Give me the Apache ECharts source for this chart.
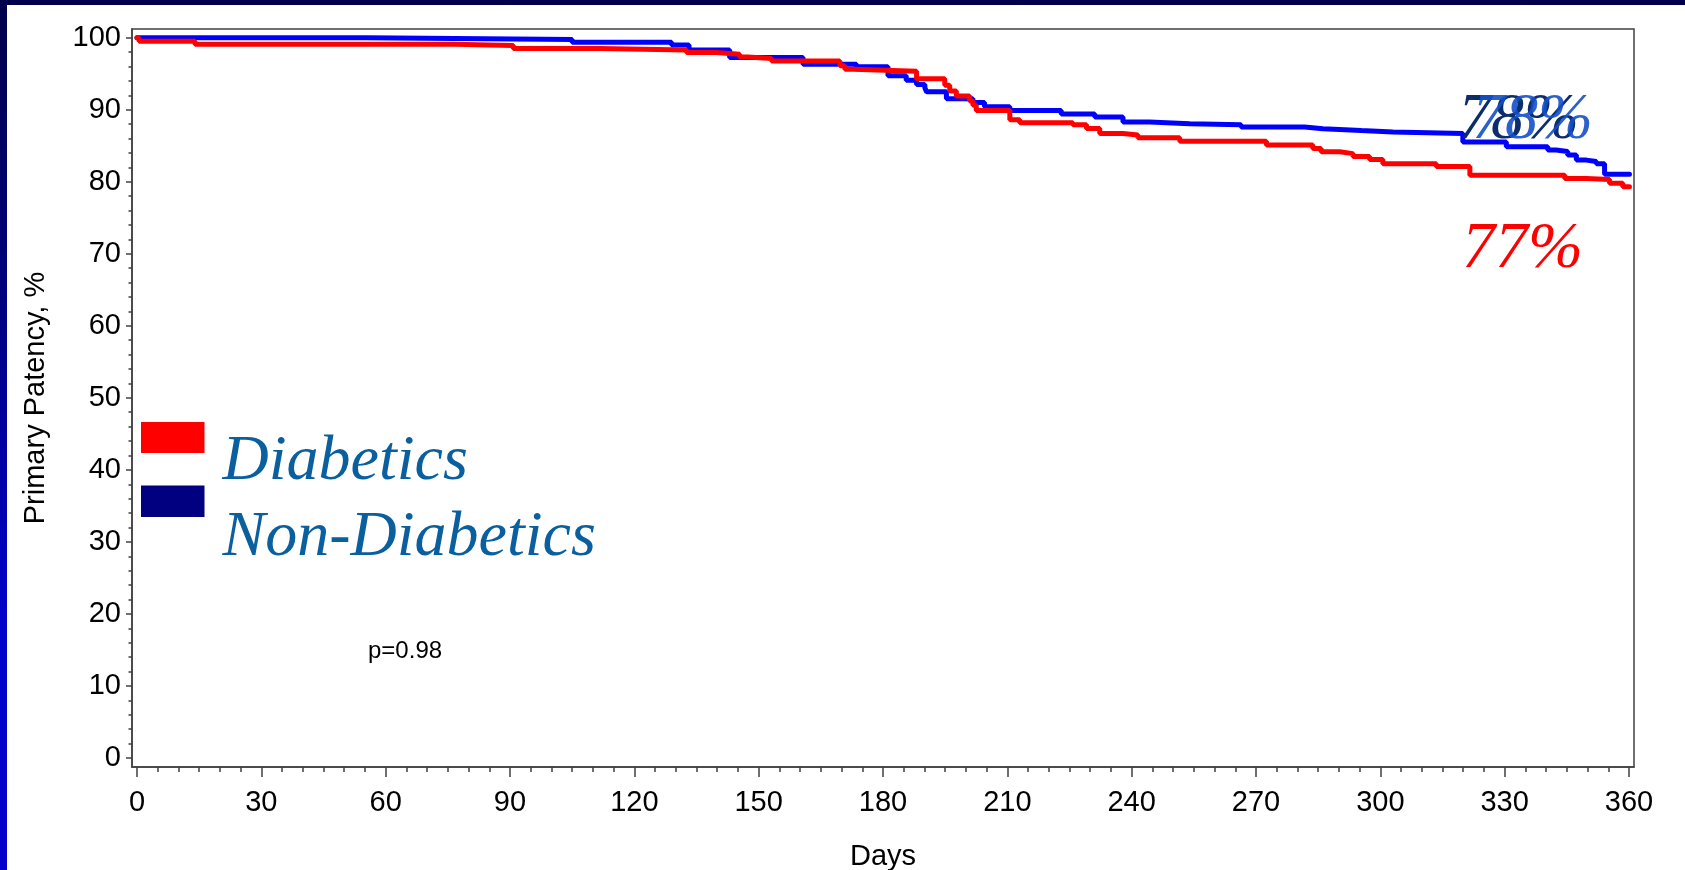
<!DOCTYPE html>
<html>
<head>
<meta charset="utf-8">
<script src="https://cdn.jsdelivr.net/npm/echarts@6/dist/echarts.min.js"></script>
<style>
  html, body { margin: 0; padding: 0; width: 1685px; height: 870px; overflow: hidden; }
  body { background: linear-gradient(to bottom, #00004a 0%, #000080 35%, #0000c8 70%, #0000cc 100%); position: relative; }
  #chart { position: absolute; left: 7px; top: 5px; width: 1678px; height: 865px; background: #ffffff; }
</style>
</head>
<body>
<div id="chart"></div>
<script>
// ---- Data ----
const seriesNames = ['Diabetics', 'Non-Diabetics'];

const diabeticsDays = [0, 0.5, 14.0, 76.7, 90.8, 111.7, 132.6, 139.8, 145.4, 147.4, 153.1, 169.6, 170.8, 172.8,
  188.1, 194.9, 196.1, 197.7, 200.9, 201.7, 202.5, 210.6, 213.0, 225.8, 229.1, 232.3, 237.9, 241.5,
  251.6, 272.5, 283.7, 285.7, 290.2, 293.4, 297.4, 300.6, 313.5, 321.6, 344.5, 349.7, 355.3, 358.5, 360.1];
const diabeticsPct = [100, 99.5, 99.1, 98.9, 98.5, 98.3, 97.95, 97.7, 97.3, 97.1, 96.75, 96.1, 95.6, 95.35,
  94.3, 93.4, 92.6, 91.9, 91.2, 90.6, 89.9, 88.6, 88.2, 87.9, 87.4, 86.7, 86.5, 86.1,
  85.6, 85.1, 84.6, 84.15, 83.9, 83.5, 83.1, 82.5, 82.1, 80.9, 80.45, 80.3, 79.8, 79.3, 79.3];

const nonDiabeticsDays = [0, 55.2, 105.0, 129.0, 133.2, 143.0, 160.7, 173.6, 181.2, 185.6, 188.1, 190.1, 190.5,
  195.3, 201.7, 204.5, 210.6, 223.0, 231.1, 237.9, 244.3, 254.0, 266.4, 281.7, 286.1, 295.4, 303.0,
  319.9, 330.4, 340.4, 342.4, 345.2, 347.3, 349.7, 352.1, 354.1, 360.1];
const nonDiabeticsPct = [100, 99.75, 99.35, 98.97, 98.3, 97.25, 96.3, 95.95, 94.7, 94.1, 93.5, 93.05, 92.5,
  91.5, 91.0, 90.4, 89.9, 89.4, 89.0, 88.3, 88.05, 87.9, 87.6, 87.35, 87.1, 86.9, 86.7,
  85.5, 84.85, 84.4, 84.2, 83.7, 83.0, 82.8, 82.5, 81.05, 81.05];

const xTickLabels = [0, 30, 60, 90, 120, 150, 180, 210, 240, 270, 300, 330, 360];
const yTickLabels = [0, 10, 20, 30, 40, 50, 60, 70, 80, 90, 100];
const annotations = { nonDiabeticsEnd: '78%', diabeticsEnd: '77%', pValue: 'p=0.98' };
const axisNames = { x: 'Days', y: 'Primary Patency, %' };

// minor ticks (every 5 days / every 2 %)
const xMinor = [];
for (let d = 0; d <= 360; d += 5) if (d % 30 !== 0) xMinor.push(d);
const yMinor = [];
for (let v = 0; v <= 100; v += 2) if (v % 10 !== 0) yMinor.push(v);

const zip = (a, b) => a.map((v, i) => [v, b[i]]);

const SANS = "'Liberation Sans', Arial, sans-serif";
const SERIF = "'Liberation Serif', 'Times New Roman', serif";
const AX = '#404040';

const chart = echarts.init(document.getElementById('chart'), null, { renderer: 'canvas' });

const X_MIN = -1.2, X_MAX = 361.2, Y_MIN = -1.25, Y_MAX = 101.2;

const option = {
  animation: false,
  backgroundColor: '#ffffff',
  grid: {
    left: 125, right: 51, top: 24, bottom: 103, outerBoundsMode: 'none', containLabel: false,
    show: true, borderColor: AX, borderWidth: 1.5, backgroundColor: 'transparent'
  },
  xAxis: [
    {
      type: 'value', min: X_MIN, max: X_MAX, position: 'bottom',
      axisLine: { show: true, onZero: false, lineStyle: { color: AX, width: 1.5 } },
      axisTick: { show: true, length: 10, customValues: xTickLabels, lineStyle: { color: AX, width: 1.5 } },
      axisLabel: { customValues: xTickLabels, fontSize: 29, fontFamily: SANS, color: '#000', margin: 21.5 },
      splitLine: { show: false },
      name: axisNames.x, nameLocation: 'middle', nameGap: 75,
      nameTextStyle: { fontSize: 29, fontFamily: SANS, color: '#000' }
    },
    {
      type: 'value', min: X_MIN, max: X_MAX, position: 'bottom',
      axisLine: { show: false, onZero: false },
      axisTick: { show: true, length: 5, customValues: xMinor, lineStyle: { color: AX, width: 1.5 } },
      axisLabel: { show: false },
      splitLine: { show: false }
    }
  ],
  yAxis: [
    {
      type: 'value', min: Y_MIN, max: Y_MAX, position: 'left',
      axisLine: { show: true, onZero: false, lineStyle: { color: AX, width: 1.5 } },
      axisTick: { show: true, length: 6, customValues: yTickLabels, lineStyle: { color: AX, width: 1.5 } },
      axisLabel: { customValues: yTickLabels, fontSize: 29, fontFamily: SANS, color: '#000', margin: 11, padding: [10, 0, 0, 0] },
      splitLine: { show: false },
      name: axisNames.y, nameLocation: 'middle', nameGap: 82, nameRotate: 90,
      nameTextStyle: { fontSize: 29, fontFamily: SANS, color: '#000' }
    },
    {
      type: 'value', min: Y_MIN, max: Y_MAX, position: 'left',
      axisLine: { show: false, onZero: false },
      axisTick: { show: true, length: 3.5, customValues: yMinor, lineStyle: { color: AX, width: 1.5 } },
      axisLabel: { show: false },
      splitLine: { show: false }
    }
  ],
  series: [
    {
      name: seriesNames[1], type: 'line', step: 'end', showSymbol: false, symbol: 'none',
      data: zip(nonDiabeticsDays, nonDiabeticsPct),
      lineStyle: { color: '#0000ff', width: 5, cap: 'round' }, z: 3
    },
    {
      name: seriesNames[0], type: 'line', step: 'end', showSymbol: false, symbol: 'none',
      data: zip(diabeticsDays, diabeticsPct),
      lineStyle: { color: '#ff0000', width: 5, cap: 'round' }, z: 4
    }
  ],
  graphic: [
    { type: 'rect', left: 134, top: 417, shape: { width: 63.5, height: 31 }, style: { fill: '#ff0000' } },
    { type: 'rect', left: 134, top: 480.5, shape: { width: 63.5, height: 31.5 }, style: { fill: '#000080' } },
    { type: 'text', x: 215.5, y: 457, style: { text: seriesNames[0], fontSize: 64, fontStyle: 'italic', fontFamily: SERIF, fill: '#0a5f9e', verticalAlign: 'middle', align: 'left' } },
    { type: 'text', x: 215.5, y: 533, style: { text: seriesNames[1], fontSize: 64, fontStyle: 'italic', fontFamily: SERIF, fill: '#0a5f9e', verticalAlign: 'middle', align: 'left' } },
    { type: 'text', x: 1451, y: 116, z: 10, style: { text: annotations.nonDiabeticsEnd, fontSize: 66, fontStyle: 'italic', fontFamily: SERIF, fill: '#0c2d6b', verticalAlign: 'middle', align: 'left' } },
    { type: 'text', x: 1465, y: 116, z: 11, style: { text: annotations.nonDiabeticsEnd, fontSize: 66, fontStyle: 'italic', fontFamily: SERIF, fill: 'rgba(20,80,200,0.9)', verticalAlign: 'middle', align: 'left' } },
    { type: 'text', x: 1455, y: 245, z: 10, style: { text: annotations.diabeticsEnd, fontSize: 66, fontStyle: 'italic', fontFamily: SERIF, fill: '#ff0000', verticalAlign: 'middle', align: 'left' } },
    { type: 'text', x: 361, y: 646.4, style: { text: annotations.pValue, fontSize: 24, fontFamily: SANS, fill: '#000', verticalAlign: 'middle', align: 'left' } }
  ]
};
chart.setOption(option);
</script>
</body>
</html>
